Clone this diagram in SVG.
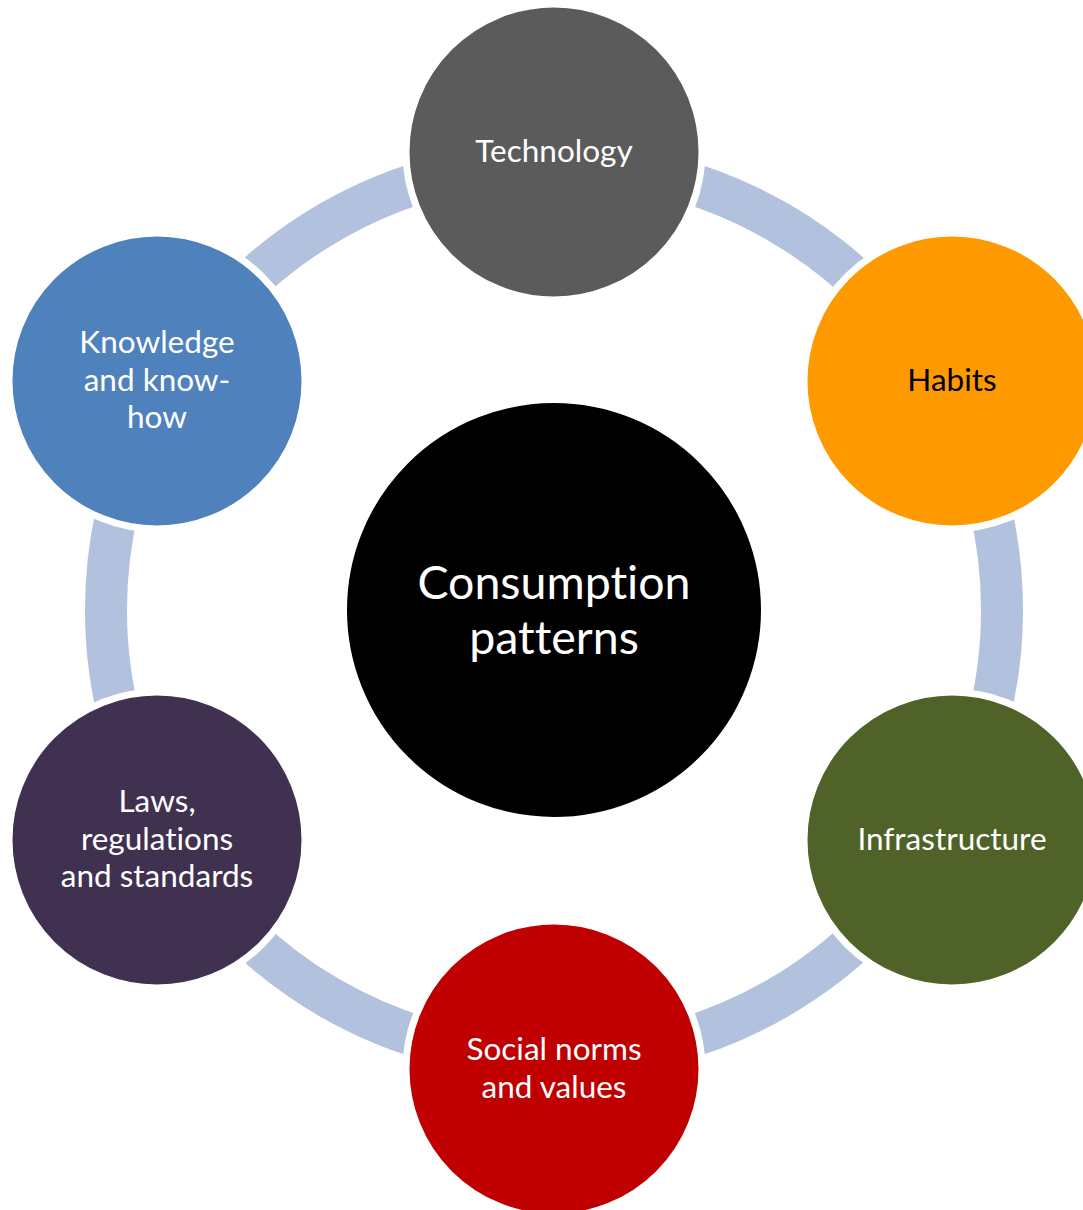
<svg xmlns="http://www.w3.org/2000/svg" width="1083" height="1210" viewBox="0 0 1083 1210">
<style>
.ring{fill:none;stroke:#B2C2DE;stroke-width:42;stroke-linecap:butt}
.node{stroke:#FFFFFF;stroke-width:7}
.lbl{font-family:Lato,"Open Sans","Liberation Sans",sans-serif;font-size:31.5px;text-anchor:middle;fill:#FFFFFF;font-variant-ligatures:none}
.big{font-size:46.5px}
.dark{fill:#000000}
</style>
<rect width="1083" height="1210" fill="#FFFFFF"/>
<g id="connectors">
<path class="ring" d="M554 162 A448 448 0 0 1 942 386"/>
<path class="ring" d="M942 386 A448 448 0 0 1 942 834"/>
<path class="ring" d="M942 834 A448 448 0 0 1 554 1058"/>
<path class="ring" d="M554 1058 A448 448 0 0 1 166 834"/>
<path class="ring" d="M166 834 A448 448 0 0 1 166 386"/>
<path class="ring" d="M166 386 A448 448 0 0 1 554 162"/>
</g>
<g id="center">
<circle cx="554" cy="610" r="208" fill="#000000" stroke="#FFFFFF" stroke-width="2"/>
<text class="lbl big" x="554" y="599">Consumption</text>
<text class="lbl big" x="554" y="654">patterns</text>
</g>
<g id="technology">
<circle class="node" cx="554" cy="152" r="148" fill="#5B5B5B"/>
<text class="lbl" x="554" y="162">Technology</text>
</g>
<g id="habits">
<circle class="node" cx="952" cy="381" r="148" fill="#FE9A00"/>
<text class="lbl dark" x="952" y="391">Habits</text>
</g>
<g id="infrastructure">
<circle class="node" cx="952" cy="840" r="148" fill="#4F6228"/>
<text class="lbl" x="952" y="850">Infrastructure</text>
</g>
<g id="social">
<circle class="node" cx="554" cy="1069" r="148" fill="#C00000"/>
<text class="lbl" x="554" y="1060">Social norms</text>
<text class="lbl" x="554" y="1098">and values</text>
</g>
<g id="laws">
<circle class="node" cx="157" cy="840" r="148" fill="#403151"/>
<text class="lbl" x="157" y="812">Laws,</text>
<text class="lbl" x="157" y="850">regulations</text>
<text class="lbl" x="157" y="887">and standards</text>
</g>
<g id="knowledge">
<circle class="node" cx="157" cy="381" r="148" fill="#4F81BD"/>
<text class="lbl" x="157" y="353">Knowledge</text>
<text class="lbl" x="157" y="391">and know-</text>
<text class="lbl" x="157" y="428">how</text>
</g>
</svg>
